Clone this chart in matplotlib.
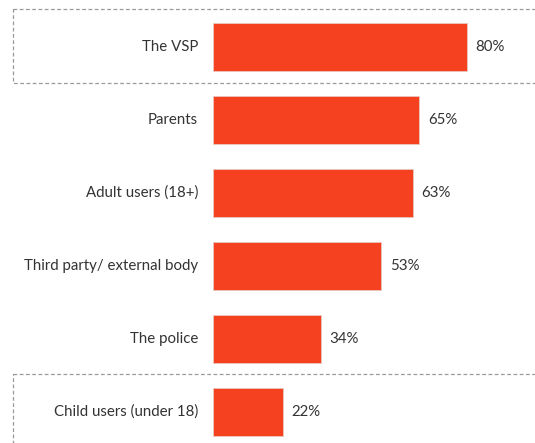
import matplotlib.pyplot as plt
from matplotlib.patches import Rectangle

categories = ['The VSP', 'Parents', 'Adult users (18+)', 'Third party/ external body',
              'The police', 'Child users (under 18)']
values = [80, 65, 63, 53, 34, 22]
boxed = ['The VSP', 'Child users (under 18)']

plt.rcParams['font.family'] = ['Lato', 'DejaVu Sans']

W, H = 535, 443
fig = plt.figure(figsize=(W / 100, H / 100), dpi=100)
# bars start at x=213px, rows are 73px apart
x0 = 213
left = x0 / W
ax = fig.add_axes([left, 0, 1 - left, 1])
px_per_unit = 253.5 / 80
ax.set_xlim(0, (W - x0) / px_per_unit)
ax.set_ylim(5 + (H - 412) / 73, -47 / 73)

ypos = list(range(len(categories)))
ax.barh(ypos, values, height=0.66, color='#F5411F', edgecolor='#e8c8c0', linewidth=0.6)
for y, v, cat in zip(ypos, values, categories):
    ax.text(v + 9 / px_per_unit, y, f'{v}%', va='center', ha='left',
            fontsize=10.8, color='#333333')
    ax.text(-15 / px_per_unit, y, cat, va='center', ha='right', fontsize=10.8,
            color='#333333', clip_on=False)

ax.axis('off')

# dashed frames round the highlighted rows
for cat in boxed:
    i = categories.index(cat)
    y0 = i - 38 / 73
    rect = Rectangle(((12.5 - x0) / px_per_unit, y0), 400, 74 / 73, fill=False,
                     edgecolor='#9a9a9a', linestyle=(0, (3, 2)), linewidth=0.9,
                     clip_on=False)
    ax.add_patch(rect)

fig.savefig('out.png', dpi=100)
